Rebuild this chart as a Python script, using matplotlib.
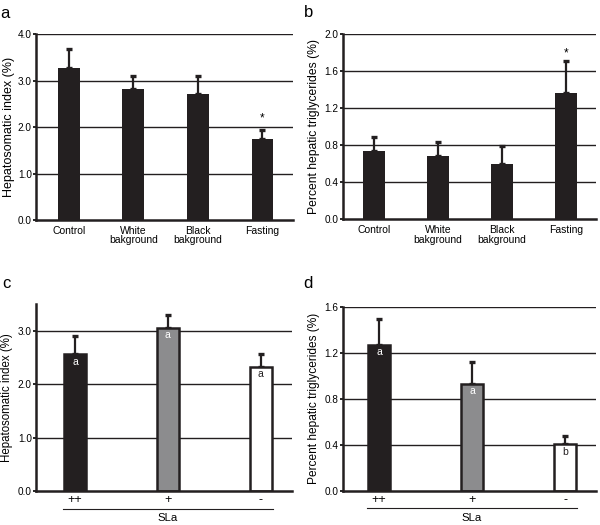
import numpy as np
import matplotlib.pyplot as plt

plt.rcParams['font.family'] = ['Liberation Sans', 'DejaVu Sans']

groups_ab = ['Control', 'White\nbakground', 'Black\nbakground', 'Fasting']
hsi_ab = [3.28, 2.82, 2.72, 1.74]
hsi_ab_err = [0.39, 0.27, 0.37, 0.20]
tg_ab = [0.74, 0.68, 0.60, 1.37]
tg_ab_err = [0.15, 0.16, 0.19, 0.34]

groups_cd = ['++', '+', '-']
hsi_cd = [2.57, 3.06, 2.33]
hsi_cd_err = [0.34, 0.23, 0.23]
hsi_cd_letters = ['a', 'a', 'a']
tg_cd = [1.27, 0.93, 0.405]
tg_cd_err = [0.22, 0.19, 0.075]
tg_cd_letters = ['a', 'a', 'b']

dark = '#231f20'
colors_cd = [dark, '#8c8c8e', 'white']
letter_colors = ['white', 'white', dark]

fig = plt.figure(figsize=(6, 5.25), dpi=100)


def style_axes(ax, ticks, ylabel, lab_size, lab_x=-0.088):
    ax.set_yticks(ticks)
    ax.set_yticklabels(['%.1f' % t for t in ticks], fontsize=7.2)
    for t in ticks[1:]:
        ax.axhline(t, color=dark, lw=1.0, zorder=0.5)
    for s in ['top', 'right']:
        ax.spines[s].set_visible(False)
    for s in ['left', 'bottom']:
        ax.spines[s].set_linewidth(1.8)
        ax.spines[s].set_color(dark)
    ax.tick_params(axis='y', length=2, width=1.2, pad=1)
    ax.tick_params(axis='x', length=0, pad=4)
    ax.set_ylabel(ylabel, fontsize=lab_size)
    ax.yaxis.set_label_coords(lab_x, 0.5)


def draw_bars(ax, x, vals, errs, width, colors, edge):
    ax.bar(x, vals, width, color=colors, edgecolor=dark, linewidth=edge, zorder=2)
    ax.errorbar(x, vals, yerr=[np.zeros(len(vals)), errs], fmt='none',
                ecolor=dark, elinewidth=1.6, capsize=2.5, capthick=2.4, zorder=1.5)


# panel a
ax = fig.add_axes([0.06, 0.581, 0.428, 0.354])
x = np.arange(len(groups_ab))
draw_bars(ax, x, hsi_ab, hsi_ab_err, 0.34, dark, 0)
ax.set_xlim(-0.51, 3.47)
ax.set_ylim(0, 4.0)
style_axes(ax, [0.0, 1.0, 2.0, 3.0, 4.0], 'Hepatosomatic index (%)', 9.0, -0.08)
ax.set_xticks(x)
ax.set_xticklabels(groups_ab, fontsize=7.5, linespacing=0.95)
ax.text(3, hsi_ab[3] + hsi_ab_err[3] + 0.12, '*', ha='center', va='bottom', fontsize=8.5)
fig.text(0.001, 0.966, 'a', fontsize=12, va='baseline')

# panel b
ax = fig.add_axes([0.571, 0.582, 0.422, 0.353])
draw_bars(ax, x, tg_ab, tg_ab_err, 0.34, dark, 0)
ax.set_xlim(-0.49, 3.46)
ax.set_ylim(0, 2.0)
style_axes(ax, [0.0, 0.4, 0.8, 1.2, 1.6, 2.0], 'Percent hepatic triglycerides (%)', 8.7)
ax.set_xticks(x)
ax.set_xticklabels(groups_ab, fontsize=7.5, linespacing=0.95)
ax.text(3, tg_ab[3] + tg_ab_err[3] + 0.02, '*', ha='center', va='bottom', fontsize=8.5)
fig.text(0.507, 0.967, 'b', fontsize=12, va='baseline')

# panels c and d
xc = np.arange(len(groups_cd))
panels = [
    ([0.06, 0.0648, 0.427, 0.3556], hsi_cd, hsi_cd_err, hsi_cd_letters, 3.5,
     [0.0, 1.0, 2.0, 3.0], 'Hepatosomatic index (%)', 8.3, (-0.42, 2.34), 0.003, 'c'),
    ([0.571, 0.0648, 0.422, 0.3512], tg_cd, tg_cd_err, tg_cd_letters, 1.6,
     [0.0, 0.4, 0.8, 1.2, 1.6], 'Percent hepatic triglycerides (%)', 8.6, (-0.39, 2.33), 0.505, 'd'),
]
for rect, vals, errs, letters, ymax, ticks, ylabel, lsize, xl, lx, tag in panels:
    ax = fig.add_axes(rect)
    draw_bars(ax, xc, vals, errs, 0.24, colors_cd, 1.8)
    ax.set_xlim(*xl)
    ax.set_ylim(0, ymax)
    style_axes(ax, ticks, ylabel, lsize)
    ax.set_xticks(xc)
    ax.set_xticklabels(groups_cd, fontsize=9)
    ax.tick_params(axis='x', pad=2)
    for xi, v, lt, lc in zip(xc, vals, letters, letter_colors):
        ax.annotate(lt, (xi, v), xytext=(0, -5.5), textcoords='offset points',
                    ha='center', va='center', fontsize=7.5, color=lc, zorder=3)
    # SLa bracket below categories
    ax.plot([-0.13, 2.13], [-0.095 * ymax, -0.095 * ymax], color=dark, lw=0.8,
            clip_on=False)
    ax.text(1, -0.12 * ymax, 'SLa', ha='center', va='top', fontsize=8.2)
    fig.text(lx, 0.451, tag, fontsize=12, va='baseline')

fig.savefig('out.png', dpi=100)
